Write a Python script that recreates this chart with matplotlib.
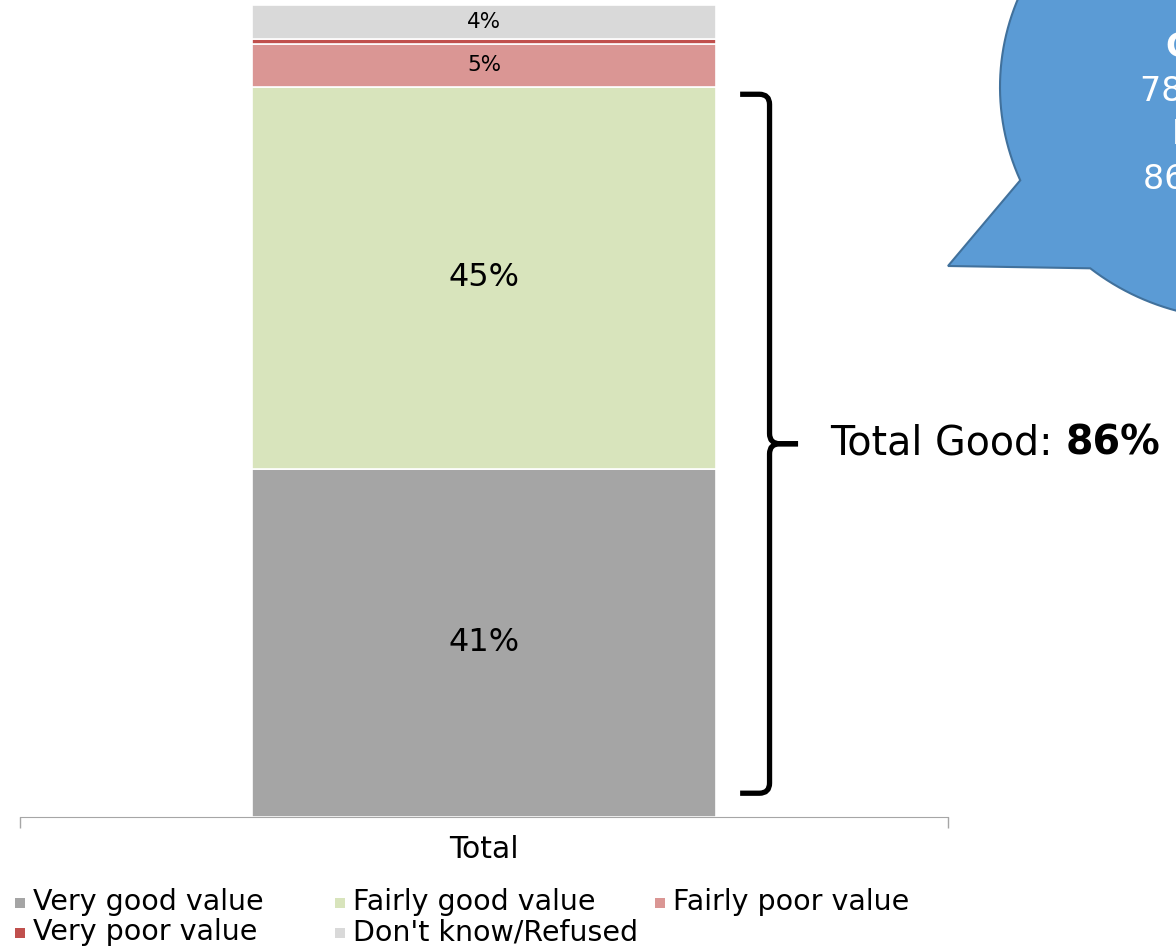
import matplotlib
matplotlib.use("Agg")
import matplotlib.pyplot as plt
import numpy as np
from matplotlib.patches import Rectangle, PathPatch
from matplotlib.path import Path

plt.rcParams['font.family'] = ['DejaVu Sans']

# Survey result: value for money, single "Total" column
category = ["Total"]
series = ["Very good value", "Fairly good value", "Fairly poor value",
          "Very poor value", "Don't know/Refused"]
values = [41, 45, 5, 0.6, 4]
labels = ["41%", "45%", "5%", "", "4%"]
colors = ["#A5A5A5", "#D8E4BC", "#DA9694", "#C0504D", "#D9D9D9"]
total_good = "86%"

bubble_lines = ["Comparison", "78% good value", "In 2015", "86% good value"]

W, H = 1176, 946
fig = plt.figure(figsize=(W / 100, H / 100), dpi=100)
ax = fig.add_axes([20 / W, 1 - 817 / H, 928 / W, 817 / H])

bottom = 0
for val, lab, col, name in zip(values, labels, colors, series):
    ax.bar(0, val, width=0.5, bottom=bottom, color=col, edgecolor="white",
           linewidth=1.2, label=name)
    if lab:
        size = 23 if val > 10 else 15.5
        ax.text(0, bottom + val / 2, lab, ha="center", va="center",
                fontsize=size, color="black")
    bottom += val

ax.set_xlim(-0.5, 0.5)
ax.set_ylim(0, 96.2)
ax.set_xticks([0])
ax.set_xticklabels(category, fontsize=21.5)
ax.tick_params(axis="x", which="major", length=0, pad=13)
ax.set_xticks([-0.5, 0.5], minor=True)
ax.tick_params(axis="x", which="minor", length=8, color="#A6A6A6", width=1)
ax.set_yticks([])
for s in ["left", "right", "top"]:
    ax.spines[s].set_visible(False)
ax.spines["bottom"].set_color("#A6A6A6")

# curly brace around the two "good" segments
x0, xm, xt = 0.276, 0.3077, 0.3384
yt = values[0] + values[1] - 0.9
yb = 2.8
ym = (yt + yb) / 2
dx, dy = 0.011, 1.2
upper = [(x0, yt), (xm - dx, yt), (xm, yt), (xm, yt - dy),
         (xm, ym + dy), (xm, ym), (xm + dx, ym), (xt, ym)]
lower = [(xt, ym), (xm + dx, ym), (xm, ym), (xm, ym - dy),
         (xm, yb + dy), (xm, yb), (xm - dx, yb), (x0, yb)]
codes = [Path.MOVETO, Path.LINETO, Path.CURVE3, Path.CURVE3,
         Path.LINETO, Path.CURVE3, Path.CURVE3, Path.LINETO]
for part in (upper, lower):
    ax.add_patch(PathPatch(Path(part, codes), fill=False, lw=3.8,
                           edgecolor="black", clip_on=False,
                           capstyle="butt", joinstyle="round"))

t = ax.text(0.373, ym, "Total Good: ", fontsize=28.5, va="center", ha="left")
ax.annotate(total_good, xy=(1, 0), xycoords=t, va="bottom", ha="left",
            fontsize=28.5, fontweight="bold")

# speech bubble on the right (pixel coords, y down)
cx, cy, rx, ry = 1240, 87, 240, 232
tip = (948, 266)
base1, base2 = (1021, 180), (1093, 265)
a1 = np.arctan2((base1[1] - cy) / ry, (base1[0] - cx) / rx)
a2 = np.arctan2((base2[1] - cy) / ry, (base2[0] - cx) / rx) + 2 * np.pi
ang = np.linspace(a1, a2, 200)
px = cx + rx * np.cos(ang)
py = cy + ry * np.sin(ang)
pts = [tip] + list(zip(px, py)) + [tip]
pts = [(x / W, 1 - y / H) for x, y in pts]
fig.patches.append(PathPatch(Path(pts, closed=True), facecolor="#5B9BD5",
                             edgecolor="#41719C", lw=1.5,
                             transform=fig.transFigure))
for (bx, by), txt, bold in zip([(1165, 48), (1140, 92), (1172, 135), (1143, 180)],
                               bubble_lines, [True, False, True, False]):
    fig.text(bx / W, 1 - by / H, txt, color="white", fontsize=24,
             fontweight="bold" if bold else "normal", ha="left", va="center")

# legend, three fixed-width columns
slots = [(15, 0), (335, 0), (655, 0), (15, 1), (335, 1)]
for (lx, row), name, col in zip(slots, series, colors):
    y = 898 + 30 * row
    fig.patches.append(Rectangle((lx / W, 1 - (y + 10) / H), 10 / W, 10 / H,
                                 facecolor=col, transform=fig.transFigure))
    fig.text((lx + 18) / W, 1 - (y + 12) / H, name, fontsize=20.5,
             ha="left", va="baseline")

fig.savefig("out.png", dpi=100)
